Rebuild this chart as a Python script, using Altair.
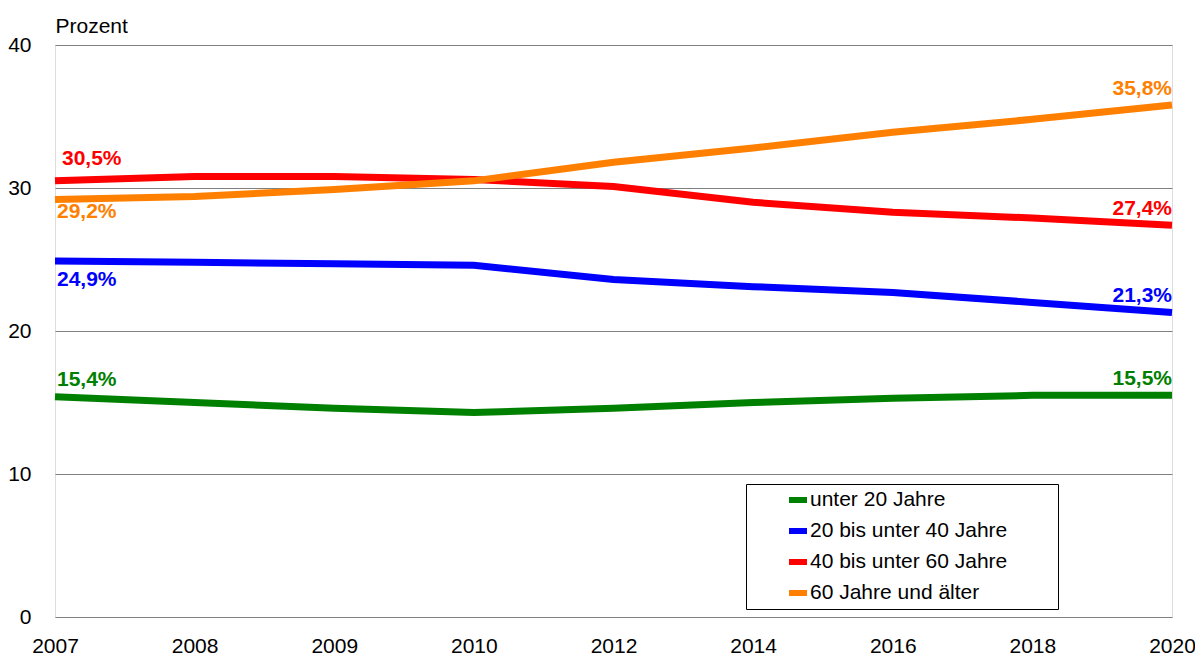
import altair as alt
import pandas as pd

years = ["2007", "2008", "2009", "2010", "2012", "2014", "2016", "2018", "2020"]
series = ["unter 20 Jahre", "20 bis unter 40 Jahre", "40 bis unter 60 Jahre", "60 Jahre und älter"]
unter20 = [15.4, 15.0, 14.6, 14.3, 14.6, 15.0, 15.3, 15.5, 15.5]
bis40 = [24.9, 24.8, 24.7, 24.6, 23.6, 23.1, 22.7, 22.0, 21.3]
bis60 = [30.5, 30.8, 30.8, 30.6, 30.1, 29.0, 28.3, 27.9, 27.4]
ab60 = [29.2, 29.4, 29.9, 30.5, 31.8, 32.8, 33.9, 34.8, 35.8]
colors = ["#008000", "#0000FF", "#FF0000", "#FF8000"]

values = [unter20, bis40, bis60, ab60]
rows = []
for s, vals in zip(series, values):
    for y, v in zip(years, vals):
        rows.append({"year": y, "series": s, "value": v,
                     "label": f"{v:.1f}".replace(".", ",") + "%"})
df = pd.DataFrame(rows)

FONT = "Liberation Sans"
FS = 21

base = alt.Chart(df)

pad = "\u00a0" * 8 + "\u200b"

lines = base.mark_line(strokeWidth=7, strokeCap="butt").encode(
    x=alt.X("year:O", sort=years,
            scale=alt.Scale(type="point", padding=0),
            axis=alt.Axis(labelAngle=0, domain=False, ticks=False, labelPadding=18,
                          labelFontSize=FS, labelFont=FONT, labelColor="black",
                          title=None, grid=False)),
    y=alt.Y("value:Q", scale=alt.Scale(domain=[0, 40], nice=False),
            axis=alt.Axis(values=[0, 10, 20, 30, 40], grid=True, gridColor="#808080",
                          gridWidth=1, domain=False, ticks=False, labelPadding=24,
                          labelFontSize=FS, labelFont=FONT, labelColor="black",
                          title="Prozent", titleAngle=0, titleX=0, titleY=-13,
                          titleAlign="left", titleBaseline="alphabetic",
                          titleFontWeight="normal", titleFontSize=FS, titleFont=FONT,
                          titleColor="black")),
    color=alt.Color("series:N", sort=series,
                    scale=alt.Scale(domain=series, range=colors),
                    legend=alt.Legend(orient="none", legendX=691, legendY=439, title=None,
                                      fillColor="white", strokeColor="black", padding=4,
                                      rowPadding=7, symbolType="stroke",
                                      symbolStrokeWidth=6, symbolSize=324,
                                      symbolOffset=36, labelOffset=0,
                                      labelFontSize=FS, labelFont=FONT,
                                      labelColor="black", labelLimit=600,
                                      labelExpr="datum.label + '" + pad + "'")),
)

start_dy = [-17, 19, -22, 13]
start_dx = [2, 2, 7, 2]
layers = [lines]
for s, c, dy, dx in zip(series, colors, start_dy, start_dx):
    layers.append(
        base.transform_filter((alt.datum.series == s) & (alt.datum.year == years[0]))
        .mark_text(align="left", baseline="middle", dy=dy, dx=dx, fontSize=FS,
                   fontWeight="bold", font=FONT, color=c)
        .encode(x=alt.X("year:O", sort=years), y="value:Q", text="label:N")
    )
    layers.append(
        base.transform_filter((alt.datum.series == s) & (alt.datum.year == years[-1]))
        .mark_text(align="right", baseline="middle", dy=-16, dx=0, fontSize=FS,
                   fontWeight="bold", font=FONT, color=c)
        .encode(x=alt.X("year:O", sort=years), y="value:Q", text="label:N")
    )

chart = alt.layer(*layers).properties(
    width=1117, height=572,
    autosize=alt.AutoSizeParams(type="none"),
    padding={"left": 47, "top": 37, "right": 23, "bottom": 45},
).configure_view(stroke="#808080", strokeWidth=1).configure(font=FONT)

chart.save("out.html", embed_options={"renderer": "svg", "actions": False})
